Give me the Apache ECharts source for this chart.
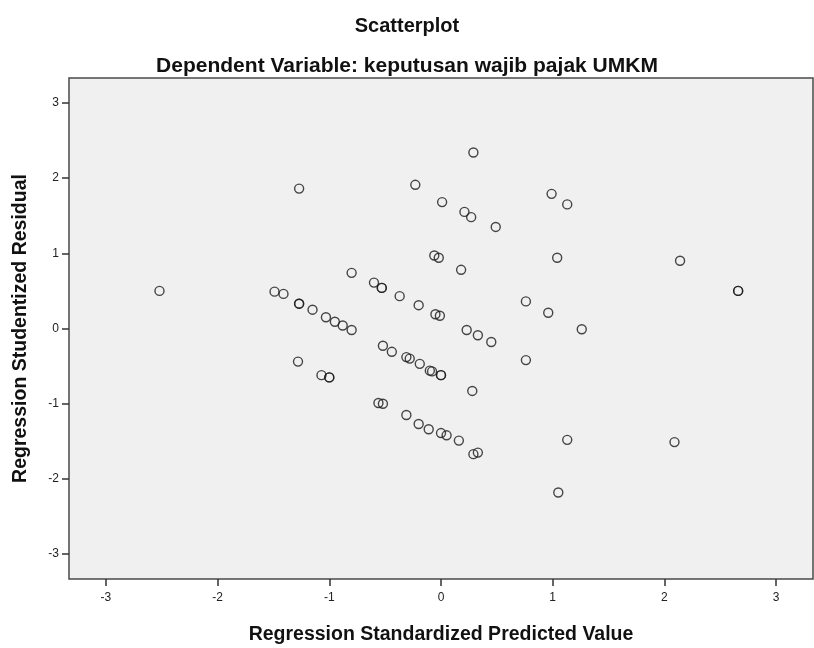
<!DOCTYPE html>
<html>
<head>
<meta charset="utf-8">
<script src="https://cdn.jsdelivr.net/npm/echarts@6/dist/echarts.min.js"></script>
<style>
  html, body { margin: 0; padding: 0; background: #fff; }
  #chart { width: 814px; height: 648px; }
</style>
</head>
<body>
<div id="chart"></div>
<script>
// chart text
const chartTitle = "Scatterplot";
const chartSubtitle = "Dependent Variable: keputusan wajib pajak UMKM";
const xTitle = "Regression Standardized Predicted Value";
const yTitle = "Regression Studentized Residual";

// tick labels (both axes)
const tickValues = [-3, -2, -1, 0, 1, 2, 3];

// regression standardized predicted value
const predicted = [
  -2.52, -1.27, -0.23, 0.01, 0.21, 0.27, 0.49, 0.29, 0.99, 1.13,
  -0.06, -0.02, 0.18, 1.04, 2.14, 2.66, 2.66, -0.80, -0.60, -0.53,
  -0.53, -0.37, -0.20, -0.05, -0.01, -1.49, -1.41, -1.27, -1.27, -1.15,
  -1.03, -0.95, -0.88, -0.80, 0.76, 0.96, 1.26, 0.23, 0.33, 0.45,
  -0.52, -0.44, -0.31, -0.28, -0.19, -0.10, -0.08, 0.00, 0.00, 0.76,
  -1.28, -1.07, -1.00, -1.00, 0.28, -0.56, -0.52, -0.31, -0.20, -0.11,
  0.00, 0.05, 0.16, 0.29, 0.33, 1.13, 2.09, 1.05
];

// regression studentized residual
const residual = [
  0.50, 1.86, 1.91, 1.68, 1.55, 1.48, 1.35, 2.34, 1.79, 1.65,
  0.97, 0.94, 0.78, 0.94, 0.90, 0.50, 0.50, 0.74, 0.61, 0.54,
  0.54, 0.43, 0.31, 0.19, 0.17, 0.49, 0.46, 0.33, 0.33, 0.25,
  0.15, 0.09, 0.04, -0.02, 0.36, 0.21, -0.01, -0.02, -0.09, -0.18,
  -0.23, -0.31, -0.38, -0.40, -0.47, -0.56, -0.57, -0.62, -0.62, -0.42,
  -0.44, -0.62, -0.65, -0.65, -0.83, -0.99, -1.00, -1.15, -1.27, -1.34,
  -1.39, -1.42, -1.49, -1.67, -1.65, -1.48, -1.51, -2.18
];

const points = predicted.map((x, i) => [x, residual[i]]);

const labelStyle = { color: "#222", fontSize: 12, fontFamily: "Liberation Sans" };
const tickStyle = { color: "#333", width: 1.5 };
const nameStyle = { fontSize: 19.5, fontWeight: "bold", color: "#111", fontFamily: "Liberation Sans" };
const titleStyle = { fontSize: 20, fontWeight: "bold", color: "#111", fontFamily: "Liberation Sans" };

const chart = echarts.init(document.getElementById("chart"));
chart.setOption({
  animation: false,
  backgroundColor: "#fff",
  title: [
    { text: chartTitle, left: "center", top: 11, textStyle: titleStyle },
    { text: chartSubtitle, left: "center", top: 51, textStyle: { ...titleStyle, fontSize: 21 } }
  ],
  grid: {
    left: 69, right: 1, top: 78, bottom: 69,
    outerBoundsMode: "none",
    show: true, backgroundColor: "#f0f0f0", borderColor: "#4a4a4a", borderWidth: 1.5
  },
  xAxis: {
    type: "value", min: -3.33, max: 3.33,
    name: xTitle, nameLocation: "middle", nameGap: 46,
    nameTextStyle: nameStyle,
    axisLine: { show: false, onZero: false },
    splitLine: { show: false },
    axisTick: { show: true, length: 7, customValues: tickValues, lineStyle: tickStyle },
    axisLabel: { customValues: tickValues, margin: 13, ...labelStyle }
  },
  yAxis: {
    type: "value", min: -3.33, max: 3.33,
    name: yTitle, nameLocation: "middle", nameGap: 38,
    nameTextStyle: nameStyle,
    axisLine: { show: false, onZero: false },
    splitLine: { show: false },
    axisTick: { show: true, length: 7, customValues: tickValues, lineStyle: tickStyle },
    axisLabel: { customValues: tickValues, margin: 10, ...labelStyle }
  },
  series: [
    {
      type: "scatter",
      data: points,
      symbol: "circle",
      symbolSize: 9,
      itemStyle: { color: "rgba(0,0,0,0)", borderColor: "#1a1a1a", borderWidth: 1.4 }
    }
  ]
});
</script>
</body>
</html>
